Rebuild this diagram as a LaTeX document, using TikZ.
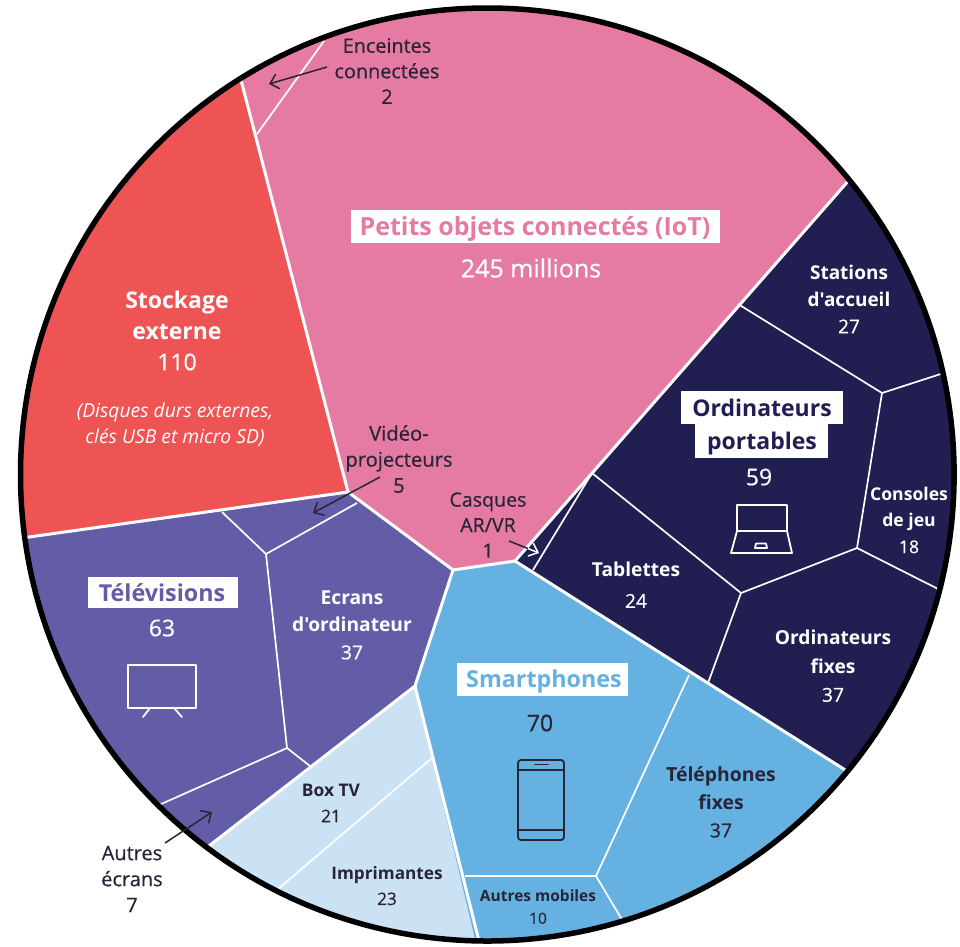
\documentclass[tikz,border=0pt]{standalone}
\usepackage{fontspec}
\setmainfont{Open Sans}[Ligatures=TeXOff]
\newfontfamily\med{Open Sans}[Ligatures=TeXOff,UprightFeatures={FakeBold=0.5}]
\usetikzlibrary{arrows.meta}
\definecolor{cpink}{HTML}{E57BA3}
\definecolor{cred}{HTML}{EF5455}
\definecolor{cpurple}{HTML}{625DA6}
\definecolor{cnavy}{HTML}{211F52}
\definecolor{cblue}{HTML}{65B2E2}
\definecolor{clight}{HTML}{CBE2F5}
\definecolor{cink}{HTML}{2A2438}
\tikzset{
  major/.style={draw=white,line width=3pt,line join=miter},
  minor/.style={draw=white,line width=1.7pt},
  lbl/.style={align=center,inner sep=0pt,text=cink},
  lblw/.style={align=center,inner sep=0pt,text=white},
  callout/.style={draw=cink,line width=1.5pt,-{Straight Barb[length=8pt,width=15pt,line width=1.5pt]}},
  icon/.style={line width=1.8pt,line join=round,line cap=round},
}
\newcommand{\sz}[2]{\fontsize{#1}{#2}\selectfont\med}
\begin{document}
\begin{tikzpicture}[x=1pt,y=-1pt]
\useasboundingbox (0,0) rectangle (960,946);
\fill[white] (0,0) rectangle (960,946);
\begin{scope}
\clip (487.3,474.5) ellipse [x radius=466.8,y radius=466.5];
% sectors
\fill[cpink] (241,83) -- (348,492) -- (453,570) -- (515,561) -- (847,182) -- (800,-20) -- (240,-20) -- cycle;
\fill[cred] (241,83) -- (348,492) -- (22,538) -- (-10,300) -- (100,60) -- cycle;
\fill[cpurple] (22,538) -- (348,492) -- (453,570) -- (415,686) -- (207,847) -- (100,900) -- (-10,700) -- cycle;
\fill[clight] (415,686) -- (480,945) -- (300,960) -- (180,868) -- (207,847) -- cycle;
\fill[cblue] (415,686) -- (453,570) -- (515,561) -- (847,771) -- (900,960) -- (480,960) -- cycle;
\fill[cnavy] (515,561) -- (847,182) -- (980,200) -- (980,800) -- (847,771) -- cycle;
% inner lines
\draw[minor] (257,134) -- (324,41);
\draw[minor] (222,512) -- (266,554) -- (357,503);
\draw[minor] (266,554) -- (287,748) -- (150,809);
\draw[minor] (287,748) -- (310,766);
\draw[minor] (432,758) -- (278,889);
\draw[minor] (689,675) -- (596,876) -- (465,876);
\draw[minor] (596,876) -- (624,923);
\draw[minor] (533,570) -- (592,473) -- (741,593) -- (708,683);
\draw[minor] (741,593) -- (857,548) -- (882,393) -- (738,304);
\draw[minor] (857,548) -- (950,595);
\draw[minor] (882,393) -- (950,371);
% major borders
\draw[major] (241,80) -- (348,492) -- (22,538);
\draw[major] (348,492) -- (453,570) -- (515,561) -- (850,179);
\draw[major] (515,561) -- (850,773);
\draw[major] (453,570) -- (415,686) -- (205,849);
\draw[major] (415,686) -- (480,945);
\end{scope}
\draw[black,line width=5.5pt] (487.3,474.5) ellipse [x radius=466.8,y radius=466.5];

% white label boxes
\fill[white] (351,210) rectangle (720,243);
\fill[white] (681,391) rectangle (843,424);
\fill[white] (695,424) rectangle (828,458);
\fill[white] (88,577) rectangle (238,608);
\fill[white] (457,663) rectangle (628,696);

% main labels
\node[inner sep=0pt,text=cpink,font=\sz{25}{30}\bfseries] (iot) at (535,229) {Petits objets connectés (IoT)};
\node[inner sep=0pt,text=white,font=\sz{25}{26}] (iotn) at (531,268) {245 millions};
\node[lblw,font=\sz{23}{31}\bfseries] (stock) at (177,315) {Stockage\\externe};
\node[inner sep=0pt,text=white,font=\sz{23}{26}] (stockn) at (177,362) {110};
\node[lblw,font=\fontsize{19.3}{26}\selectfont\itshape] (stocki) at (175,425) {(Disques durs externes,\\clés USB et micro SD)};
\node[inner sep=0pt,text=cnavy,align=center,font=\sz{23}{33}\bfseries] (port) at (762,427) {Ordinateurs\\portables};
\node[inner sep=0pt,text=white,font=\sz{23}{26}] (portn) at (759,477) {59};
\node[inner sep=0pt,text=cpurple,font=\sz{23.3}{26}\bfseries] (tele) at (162,593) {Télévisions};
\node[inner sep=0pt,text=white,font=\sz{23}{26}] (telen) at (162,628) {63};
\node[inner sep=0pt,text=cblue,font=\sz{23.3}{26}\bfseries] (smart) at (544,681) {Smartphones};
\node[inner sep=0pt,text=cink,font=\sz{23}{26}] (smartn) at (540,723) {70};

% secondary labels
\node[lbl,font=\sz{19.8}{25.5}] (enc) at (387,71) {Enceintes\\connectées\\2};
\node[lbl,font=\sz{20.2}{26}] (video) at (399,459) {Vidéo-\\projecteurs\\5};
\node[lbl,font=\sz{19.6}{25.5}] (casq) at (488,525) {Casques\\AR/VR\\1};
\node[lbl,font=\sz{20}{26}] (autres) at (132,879) {Autres\\écrans\\7};
\node[lblw,font=\sz{19}{27}] (stat) at (849,299) {\textbf{Stations}\\\textbf{d'accueil}\\27};
\node[lblw,font=\sz{17.6}{26.5}] (cons) at (909,520) {\textbf{Consoles}\\\textbf{de jeu}\\18};
\node[lblw,font=\sz{19.2}{31}] (tabl) at (636,585) {\textbf{Tablettes}\\24};
\node[lblw,font=\sz{19.2}{28.5}] (fixe) at (833,666) {\textbf{Ordinateurs}\\\textbf{fixes}\\37};
\node[lbl,font=\sz{19.4}{28}] (telf) at (721,802) {\textbf{Téléphones}\\\textbf{fixes}\\37};
\node[lblw,font=\sz{19.2}{27.5}] (ecr) at (352,625) {\textbf{Ecrans}\\\textbf{d'ordinateur}\\37};
\node[lbl,font=\sz{15.5}{22}] (mob) at (538,907) {\textbf{Autres mobiles}\\10};
\node[lbl,font=\sz{17.2}{25}] (impr) at (387,886) {\textbf{Imprimantes}\\23};
\node[lbl,font=\sz{17.4}{26}] (box) at (331,803) {\textbf{Box TV}\\21};

% callouts
\coordinate (a1) at (327,67); \coordinate (b1) at (269,84);
\coordinate (a2) at (380,477); \coordinate (b2) at (313,513);
\coordinate (a3) at (509,541); \coordinate (m3) at (528,548.5); \coordinate (b3) at (539,553);
\coordinate (a4) at (165,843); \coordinate (b4) at (212,812);
\draw[callout] (a1) -- (b1);
\draw[callout] (a2) -- (b2);
\draw[cink,line width=1.5pt] (a3) -- (m3);
\draw[callout,draw=white,-{Straight Barb[length=8pt,width=14pt,line width=1.5pt]}] (m3) -- (b3);
\draw[callout] (a4) -- (b4);

% laptop icon
\begin{scope}[draw=white,icon]
\draw (737,531) -- (737,505) -- (787,505) -- (787,531) -- cycle;
\draw (737,531) -- (731,553) -- (792,553) -- (787,531);
\draw (755,548) -- (756,543.5) -- (766,543.5) -- (767,548) -- cycle;
\end{scope}
% tv icon
\begin{scope}[draw=white,icon]
\draw (128,665) rectangle (196,708);
\draw (150,708) -- (143,717);
\draw (174,708) -- (182,717);
\end{scope}
% phone icon
\begin{scope}[draw=cink,icon]
\draw[rounded corners=3pt] (518,760) rectangle (564,840);
\draw (518,770) -- (564,770);
\draw (518,830) -- (564,830);
\draw (535,764.5) -- (548,764.5);
\end{scope}
\end{tikzpicture}
\end{document}
